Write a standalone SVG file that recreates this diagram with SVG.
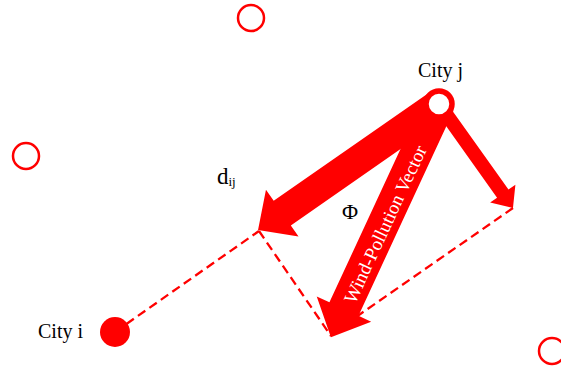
<svg xmlns="http://www.w3.org/2000/svg" width="561" height="373" viewBox="0 0 561 373">
<style>
.lbl{font-family:"Liberation Serif","Times New Roman",serif;fill:#000;}
.city{fill:#fff;stroke:#ff0000;stroke-width:2.5;}
.dash{fill:none;stroke:#ff0000;stroke-width:2.3;stroke-dasharray:9 5;}
.arrow{fill:#ff0000;stroke:none;}
</style>
<rect width="561" height="373" fill="#fff"/>
<g id="connectors">
<line class="dash" x1="115" y1="332" x2="259" y2="231"/>
<line class="dash" x1="259" y1="231" x2="331" y2="336"/>
<line class="dash" x1="513" y1="208" x2="333" y2="333"/>
<polygon id="arrow-dij" class="arrow" transform="translate(439,104) rotate(145.15)" points="0,-15 191,-15 191,-28.5 220.5,0 191,28.5 191,15 0,15"/>
<polygon id="arrow-wind" class="arrow" transform="translate(439,104) rotate(114.87)" points="0,-16 226,-16 226,-30 257,0 226,30 226,16 0,16"/>
<polygon id="arrow-comp" class="arrow" transform="translate(439,104) rotate(54.57)" points="0,-7 110,-7 110,-15.5 127.6,0 110,15.5 110,7 0,7"/>
<text class="lbl" x="0" y="0" font-size="19" style="fill:#fff" text-anchor="middle" transform="translate(391,227) rotate(-65.1)">Wind-Pollution Vector</text>
<text class="lbl" x="350" y="219" font-size="22" text-anchor="middle">Φ</text>
<text class="lbl" x="217" y="184" font-size="23">d<tspan font-size="13" dy="2">ij</tspan></text>
</g>
<g id="node-city-j">
<circle cx="439" cy="104" r="13" fill="#fff" stroke="#ff0000" stroke-width="5.5"/>
<text class="lbl" x="418" y="77" font-size="20">City j</text>
</g>
<g id="node-city-i">
<circle cx="115" cy="332" r="15" fill="#ff0000"/>
<text class="lbl" x="38" y="338" font-size="20">City i</text>
</g>
<g id="node-city-a"><circle class="city" cx="251" cy="18" r="13"/></g>
<g id="node-city-b"><circle class="city" cx="26" cy="156" r="13"/></g>
<g id="node-city-c"><circle class="city" cx="552" cy="351" r="13"/></g>
</svg>
